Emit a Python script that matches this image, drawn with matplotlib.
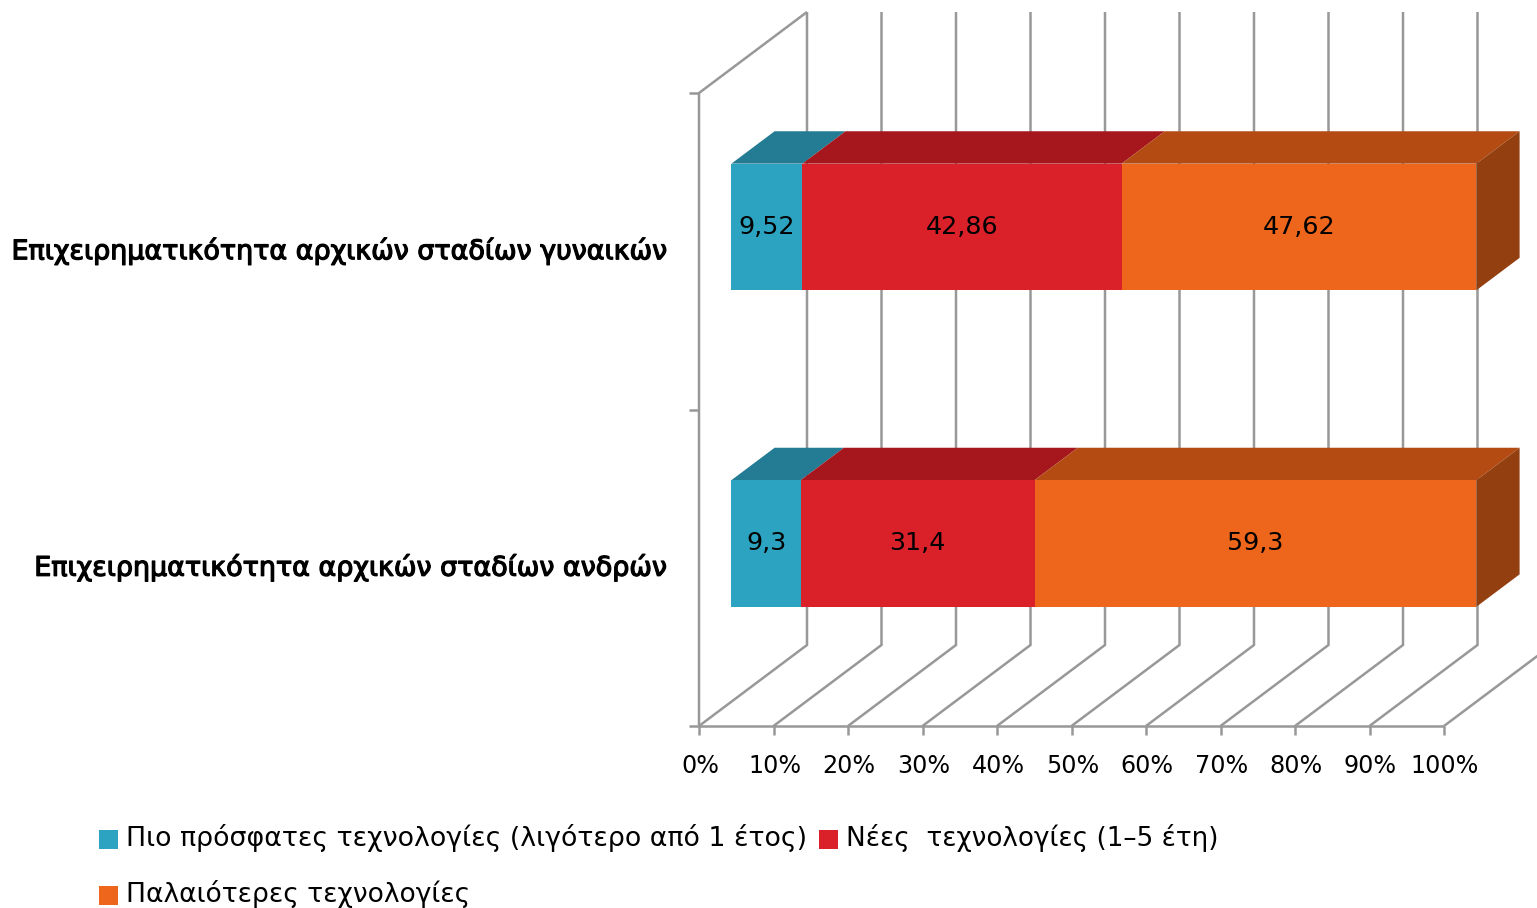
#!/usr/bin/env python3
"""Stacked 3D-look horizontal bars, drawn as an oblique projection on one axes"""

import matplotlib
matplotlib.use('Agg')
import matplotlib.pyplot as plt
import matplotlib.patheffects as pe
from matplotlib.patches import Polygon, Rectangle

plt.rcParams['font.family'] = ['DejaVu Sans']

categories = ['Επιχειρηματικότητα αρχικών σταδίων ανδρών',
              'Επιχειρηματικότητα αρχικών σταδίων γυναικών']
series_names = ['Πιο πρόσφατες τεχνολογίες (λιγότερο από 1 έτος)',
                'Νέες  τεχνολογίες (1–5 έτη)',
                'Παλαιότερες τεχνολογίες']
newest = [9.3, 9.52]
new = [31.4, 42.86]
older = [59.3, 47.62]
value_labels = [['9,3', '31,4', '59,3'], ['9,52', '42,86', '47,62']]
x_ticks = [0, 10, 20, 30, 40, 50, 60, 70, 80, 90, 100]

front_colors = ['#2ca3c0', '#da2029', '#ee661b']
top_colors = ['#237c94', '#a5171d', '#b34b12']
side_color = '#933f10'
grid_color = '#989898'

W, H = 1537, 908
X0, PX_PER_PCT = 699, 7.45
Y0, PX_PER_CAT = 726, 316.5
DEPTH_X = 108 / PX_PER_PCT
DEPTH_Y = 81 / PX_PER_CAT


def proj(x, y, depth=0.0):
    """Value, category height and depth (0..1) to axes data coordinates"""
    return (x + depth * DEPTH_X, y + depth * DEPTH_Y)


fig = plt.figure(figsize=(W / 100, H / 100), dpi=100)
ax = fig.add_axes([0, 0, 1, 1])
ax.set_xlim(-X0 / PX_PER_PCT, (W - X0) / PX_PER_PCT)
ax.set_ylim((Y0 - H) / PX_PER_CAT, Y0 / PX_PER_CAT)
ax.axis('off')

# walls and floor
line = dict(color=grid_color, lw=1.8, solid_joinstyle='miter', solid_capstyle='butt', zorder=1)
for t in x_ticks:
    pts = [proj(t, 0), proj(t, 0, 1)]
    if t < 100:
        pts.append(proj(t, 2, 1))
    ax.plot(*zip(*pts), **line)
    ax.plot([t, t], [0, -9 / PX_PER_CAT], **line)
    ax.text(t + 1 / PX_PER_PCT, -40 / PX_PER_CAT, f'{t}%', ha='center', va='center',
            fontsize=17.2, color='#000000')
ax.plot([0, 100], [0, 0], **line)
ax.plot(*zip(proj(0, 0), proj(0, 2), proj(0, 2, 1)), **line)
for cat in [0, 1, 2]:
    ax.plot([-10 / PX_PER_PCT, 0], [cat, cat], **line)

# bars
BAR_H = 0.2
D0, D1 = 0.3, 0.7
for i, vals in enumerate(zip(newest, new, older)):
    left = 0
    y0, y1 = i + 0.5 - BAR_H, i + 0.5 + BAR_H
    for j, v in enumerate(vals):
        right = left + v
        top = [proj(left, y1, D0), proj(right, y1, D0), proj(right, y1, D1), proj(left, y1, D1)]
        front = [proj(left, y0, D0), proj(right, y0, D0), proj(right, y1, D0), proj(left, y1, D0)]
        ax.add_patch(Polygon(top, fc=top_colors[j], ec='none', zorder=2))
        ax.add_patch(Polygon(front, fc=front_colors[j], ec='none', zorder=3))
        if j == 2:
            side = [proj(right, y0, D0), proj(right, y0, D1), proj(right, y1, D1), proj(right, y1, D0)]
            ax.add_patch(Polygon(side, fc=side_color, ec='none', zorder=2))
        cx, cy = proj(left + v / 2, i + 0.5, D0)
        ax.text(cx, cy, value_labels[i][j], ha='center', va='center', fontsize=18.3,
                color='#000000', zorder=4)
        left = right
    # the original is a faux-semibold face, a thin stroke gets close
    ax.text(-34 / PX_PER_PCT, i + 0.5, categories[i], ha='right', va='center', fontsize=19.4,
            color='#000000', zorder=4,
            path_effects=[pe.withStroke(linewidth=0.9, foreground='#000000')])

# legend, placed by hand because its rows are uneven
to_x = lambda px: (px - X0) / PX_PER_PCT
to_y = lambda px: (Y0 - px) / PX_PER_CAT
legend_pos = [(99, 840), (819, 840), (99, 896)]
legend_sizes = [19.3, 18.9, 19.1]
for (px, py), name, color, size in zip(legend_pos, series_names, front_colors, legend_sizes):
    ax.add_patch(Rectangle((to_x(px), to_y(py + 9)), 19 / PX_PER_PCT, 19 / PX_PER_CAT, fc=color, ec='none'))
    ax.text(to_x(px + 27), to_y(py - 2), name, ha='left', va='center', fontsize=size, color='#000000')

plt.savefig('out.png', dpi=100)
